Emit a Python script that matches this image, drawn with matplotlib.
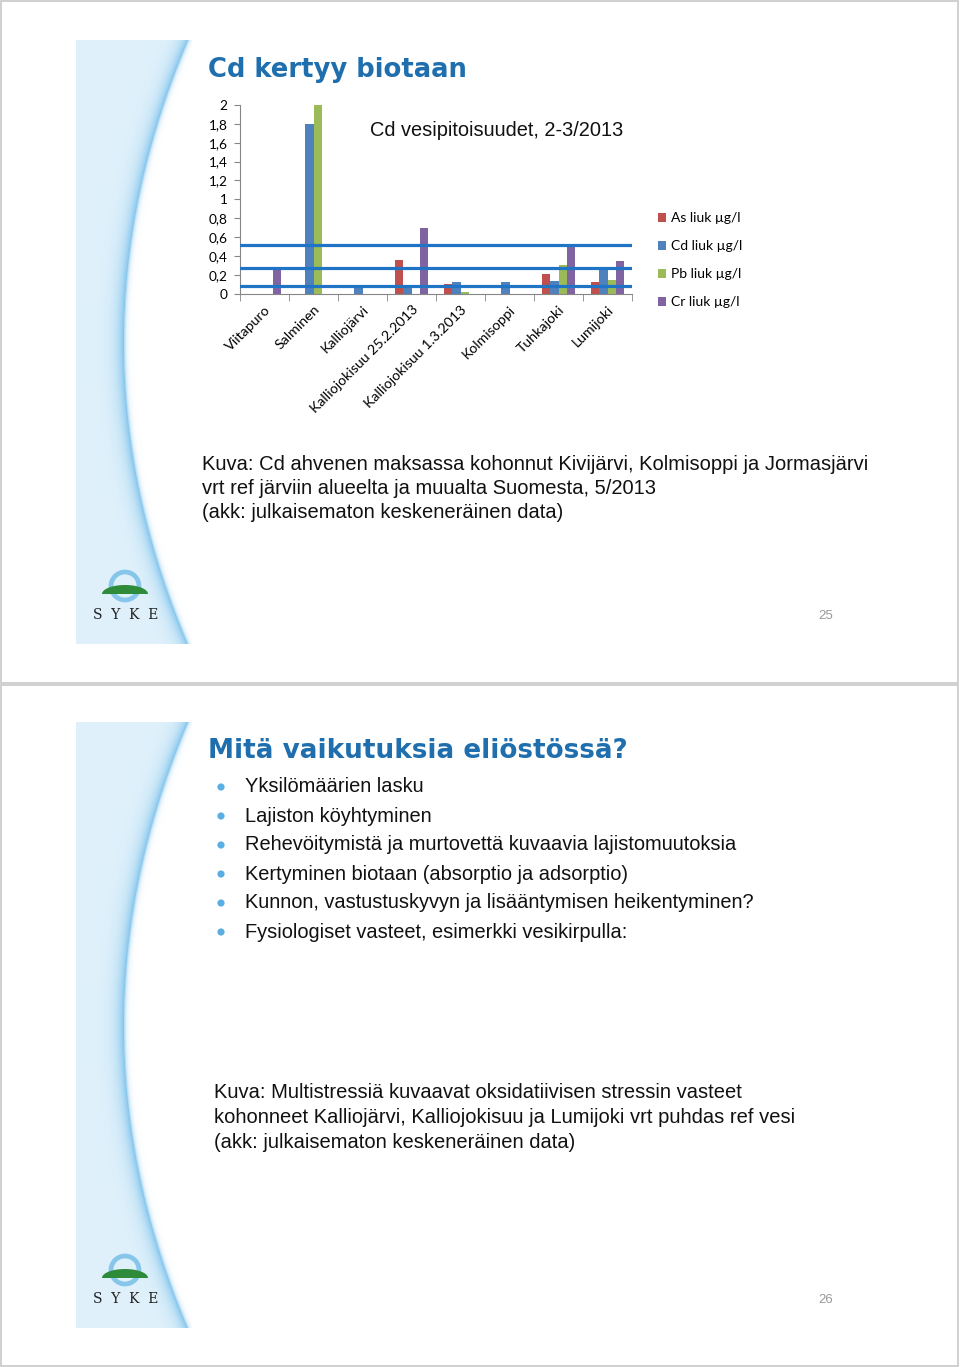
import numpy as np
import matplotlib
matplotlib.use("Agg")
import matplotlib.pyplot as plt
from matplotlib.patches import Circle, Polygon, Rectangle

W, H = 960, 1367

# --- chart data ---
sites = ["Viitapuro", "Salminen", "Kalliojärvi", "Kalliojokisuu 25.2.2013",
         "Kalliojokisuu 1.3.2013", "Kolmisoppi", "Tuhkajoki", "Lumijoki"]
as_liuk = [0, 0, 0, 0.36, 0.10, 0, 0.21, 0.12]
cd_liuk = [0, 1.80, 0.09, 0.09, 0.12, 0.12, 0.13, 0.27]
pb_liuk = [0, 2.00, 0, 0, 0.02, 0, 0.30, 0.15]
cr_liuk = [0.27, 0, 0, 0.70, 0, 0, 0.50, 0.35]
series_names = ["As liuk µg/l", "Cd liuk µg/l", "Pb liuk µg/l", "Cr liuk µg/l"]
series_colors = ["#c0504d", "#4f81bd", "#9bbb59", "#8064a2"]
ref_levels = [0.52, 0.27, 0.08]
yticks = [0, 0.2, 0.4, 0.6, 0.8, 1, 1.2, 1.4, 1.6, 1.8, 2]

bullets = [
    "Yksilömäärien lasku",
    "Lajiston köyhtyminen",
    "Rehevöitymistä ja murtovettä kuvaavia lajistomuutoksia",
    "Kertyminen biotaan (absorptio ja adsorptio)",
    "Kunnon, vastustuskyvyn ja lisääntymisen heikentyminen?",
    "Fysiologiset vasteet, esimerkki vesikirpulla:",
]
caption1 = ["Kuva: Cd ahvenen maksassa kohonnut Kivijärvi, Kolmisoppi ja Jormasjärvi",
            "vrt ref järviin alueelta ja muualta Suomesta, 5/2013",
            "(akk: julkaisematon keskeneräinen data)"]
caption2 = ["Kuva: Multistressiä kuvaavat oksidatiivisen stressin vasteet",
            "kohonneet Kalliojärvi, Kalliojokisuu ja Lumijoki vrt puhdas ref vesi",
            "(akk: julkaisematon keskeneräinen data)"]

TITLE_BLUE = "#1f6fae"
SANS = "Liberation Sans"

fig = plt.figure(figsize=(W / 100, H / 100), dpi=100)
bg = fig.add_axes([0, 0, 1, 1])
bg.set_xlim(0, W)
bg.set_ylim(H, 0)
bg.axis("off")


def draw_band(y0, y1):
    # light blue band with curved right edge, darker near the curve
    x0, x1 = 76, 192
    ys = np.arange(y0, y1)
    xs = np.arange(x0, x1)
    X, Y = np.meshgrid(xs, ys)
    mid = (y0 + y1) / 2
    half = (y1 - y0) / 2
    edge = 123 + 64 * ((Y - mid) / half) ** 2
    d = edge - X
    light = np.array([0.878, 0.945, 0.984])
    dark = np.array([0.53, 0.78, 0.93])
    t = np.clip(np.exp(-np.maximum(d, 0) / 7.0), 0, 1)[..., None]
    rgb = light * (1 - t) + dark * t
    alpha = np.where(d >= 0, 1.0, np.exp(d / 2.0))
    img = np.dstack([rgb, alpha])
    bg.imshow(img, extent=(x0, x1, y1, y0), aspect="auto", zorder=1,
              interpolation="bilinear")


def draw_logo(cx, cy):
    bg.add_patch(Circle((cx, cy), 14, fill=False, ec="#86c6ea", lw=3.4, zorder=3))
    th = np.linspace(0, np.pi, 60)
    base = cy + 8
    pts = np.column_stack([cx + 23 * np.cos(th), base - 9 * np.sin(th)])
    bg.add_patch(Polygon(pts, closed=True, fc="#2e8b3a", ec="none", zorder=4))
    bg.text(cx + 1, cy + 29, "S  Y  K  E", family="DejaVu Serif", fontsize=10,
            ha="center", va="center", color="#222222", zorder=5)


# slide frames
for top, bot in [(0, 683), (684, 1366)]:
    bg.add_patch(Rectangle((0.5, top + 0.5), 957, bot - top - 1, fill=False,
                           ec="#c8c8c8", lw=1.2, zorder=0))

draw_band(40, 644)
draw_band(722, 1328)
draw_logo(125, 586)
draw_logo(125, 1270)

# slide 1 texts
bg.text(208, 70, "Cd kertyy biotaan", family="DejaVu Sans", weight="heavy",
        fontsize=18.6, color=TITLE_BLUE, va="center", ha="left", zorder=5)
for i, line in enumerate(caption1):
    bg.text(202, 464 + i * 24.5, line, family=SANS, fontsize=14.5, va="center",
            ha="left", color="#111111")
bg.text(826, 616, "25", family=SANS, fontsize=9.5, color="#999999",
        ha="center", va="center")

# slide 2 texts
bg.text(208, 751, "Mitä vaikutuksia eliöstössä?", family="DejaVu Sans", weight="heavy",
        fontsize=18.9, color=TITLE_BLUE, va="center", ha="left", zorder=5)
for i, line in enumerate(bullets):
    y = 787 + i * 29
    bg.add_patch(Circle((221, y), 3.6, fc="#5aaee2", ec="none"))
    bg.text(245, y, line, family=SANS, fontsize=14.4, va="center", ha="left",
            color="#111111")
for i, line in enumerate(caption2):
    bg.text(214, 1093 + i * 24.5, line, family=SANS, fontsize=14.5, va="center",
            ha="left", color="#111111")
bg.text(826, 1300, "26", family=SANS, fontsize=9.5, color="#999999",
        ha="center", va="center")

# chart
ax = fig.add_axes([240 / W, 1 - 293.7 / H, 392 / W, 188.7 / H])
ax.patch.set_alpha(0)
x = np.arange(len(sites))
bw = 0.17
data = [as_liuk, cd_liuk, pb_liuk, cr_liuk]
bars = []
for k, (vals, col, name) in enumerate(zip(data, series_colors, series_names)):
    b = ax.bar(x + (k - 1.5) * bw, vals, width=bw, color=col, label=name, zorder=2)
    bars.append(b)
for lvl in ref_levels:
    ax.axhline(lvl, color="#1f74c6", lw=2.3, zorder=3)

ax.set_xlim(-0.5, len(sites) - 0.5)
ax.set_ylim(0, 2)
ax.set_yticks(yticks)
ax.set_yticklabels([("%g" % v).replace(".", ",") for v in yticks],
                   family="Lato", fontsize=9.8)
ax.set_xticks(x)
ax.set_xticklabels(sites, rotation=45, ha="right", rotation_mode="anchor",
                   family="Lato", fontsize=10.2)
ax.set_xticks(np.arange(len(sites) + 1) - 0.5, minor=True)
ax.tick_params(axis="x", which="major", length=0, pad=7)
ax.tick_params(axis="x", which="minor", length=5, color="#868686")
ax.tick_params(axis="y", length=4, color="#868686", pad=5)
for s in ["top", "right"]:
    ax.spines[s].set_visible(False)
for s in ["left", "bottom"]:
    ax.spines[s].set_color("#868686")
    ax.spines[s].set_linewidth(0.8)

bg.text(370, 131, "Cd vesipitoisuudet, 2-3/2013", family=SANS, fontsize=14.4,
        ha="left", va="center", color="#111111", zorder=5)

fig.legend(handles=bars, labels=series_names, loc="upper left",
           bbox_to_anchor=(645 / W, 1 - 200 / H), frameon=False,
           prop={"family": "Lato", "size": 10}, handlelength=0.6,
           handleheight=0.6, handletextpad=0.4, labelspacing=1.15)

fig.savefig("out.png", dpi=100)
